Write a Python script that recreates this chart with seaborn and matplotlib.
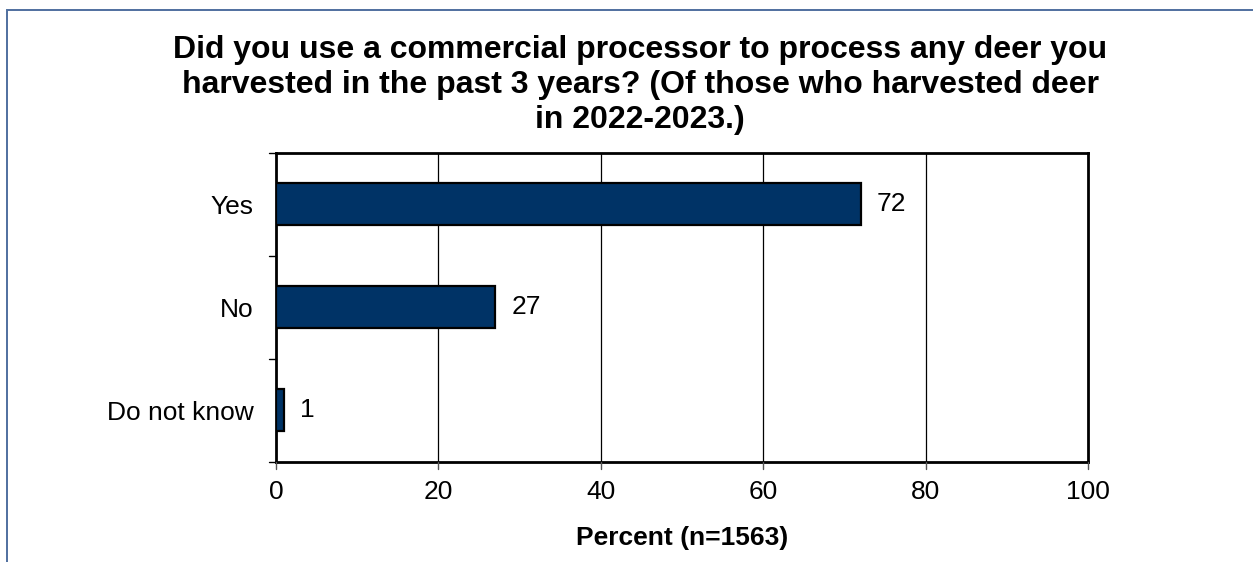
import matplotlib
matplotlib.use("Agg")
import matplotlib.pyplot as plt
from matplotlib.patches import Rectangle
import seaborn as sns
import pandas as pd

categories = ["Yes", "No", "Do not know"]
percents = [72, 27, 1]
x_ticks = [0, 20, 40, 60, 80, 100]

title = ("Did you use a commercial processor to process any deer you\n"
         "harvested in the past 3 years? (Of those who harvested deer\n"
         "in 2022-2023.)")
x_label = "Percent (n=1563)"

sns.set_theme(style="white")
plt.rcParams["font.family"] = ["Liberation Sans", "DejaVu Sans"]
plt.rcParams["text.color"] = "black"
plt.rcParams["axes.labelcolor"] = "black"
plt.rcParams["xtick.color"] = "black"
plt.rcParams["ytick.color"] = "black"

df = pd.DataFrame({"category": categories, "percent": percents})

fig = plt.figure(figsize=(12.53, 5.62), dpi=100)
ax = fig.add_axes([276 / 1253, 1 - 461.5 / 562, (1088 - 276) / 1253, (461.5 - 153) / 562])

sns.barplot(data=df, x="percent", y="category", order=categories, orient="h",
            color="#003366", saturation=1, width=0.41, edgecolor="black",
            linewidth=1.6, ax=ax, zorder=3)

ax.set_xlim(0, 100)
ax.set_ylim(2.5, -0.5)
ax.set_xticks(x_ticks)
ax.set_xticklabels([str(t) for t in x_ticks], fontsize=19)
ax.set_yticks([0, 1, 2])
ax.set_yticklabels(categories, fontsize=19)
ax.tick_params(axis="y", length=0, pad=16)
ax.tick_params(axis="x", length=0, pad=13)

# category separators as outward tick marks on the value axis
for yb in [-0.5, 0.5, 1.5, 2.5]:
    ax.plot([-0.9, 0], [yb, yb], color="black", lw=1.0, clip_on=False, zorder=4)
for xt in x_ticks:
    ax.plot([xt, xt], [2.5, 2.57], color="#555555", lw=1.0, clip_on=False, zorder=4)

for xg in x_ticks[1:-1]:
    ax.axvline(xg, color="black", lw=0.9, zorder=1)

for spine in ax.spines.values():
    spine.set_visible(True)
    spine.set_color("black")
    spine.set_linewidth(2.0)

for i, v in enumerate(percents):
    ax.text(v + 2.0, i, str(v), va="center", ha="left", fontsize=19, color="black")

ax.set_xlabel(x_label, fontsize=19, fontweight="bold", labelpad=16, color="black")
ax.set_ylabel("")

fig.text(0.511, 1 - 35 / 562, title, ha="center", va="top", fontsize=23,
         fontweight="bold", linespacing=1.22, color="black")

# outer frame of the chart area
fig.patches.append(Rectangle((6.5 / 1253, -0.01), 1.05, 1 - 9.5 / 562 + 0.01,
                             transform=fig.transFigure, fill=False,
                             edgecolor="#4F6F9F", lw=1.4))

fig.savefig("out.png", dpi=100)
